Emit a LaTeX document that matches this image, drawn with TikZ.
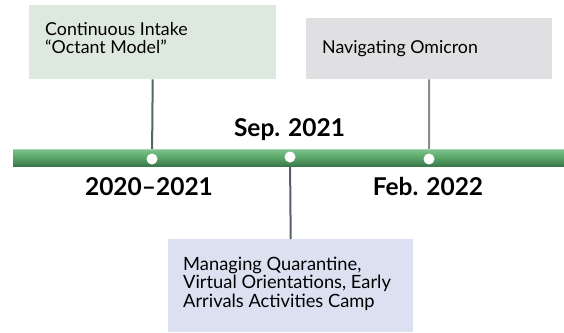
\documentclass[tikz,border=0pt]{standalone}
\usepackage{fontspec}
\setmainfont{Lato}
\definecolor{boxgreen}{RGB}{221,232,222}
\definecolor{boxgray}{RGB}{224,224,226}
\definecolor{boxblue}{RGB}{220,225,242}
\definecolor{bartop}{RGB}{128,196,140}
\definecolor{barmid}{RGB}{88,166,104}
\definecolor{barbot}{RGB}{60,120,76}
\definecolor{lineA}{RGB}{78,106,92}
\definecolor{lineB}{RGB}{140,140,140}
\definecolor{lineC}{RGB}{88,94,106}
\tikzset{
  evbox/.style={rectangle, inner sep=0pt, anchor=north west},
  evtext/.style={anchor=base west, inner sep=0pt, align=left, font=\fontsize{17.8}{18}\selectfont},
  datelbl/.style={anchor=base, inner sep=0pt, font=\fontsize{24.5}{26}\bfseries\selectfont},
  dot/.style={circle, fill=white, minimum size=11pt, inner sep=0pt},
  conn/.style={line width=2pt}
}
\begin{document}
\begin{tikzpicture}[x=1pt,y=-1pt]
\useasboundingbox (0,0) rectangle (564,332);
% boxes
\node[evbox, fill=boxgreen, minimum width=247pt, minimum height=74pt] (b1) at (29,5) {};
\node[evbox, fill=boxgray, minimum width=246pt, minimum height=61pt] (b2) at (306,18) {};
\node[evbox, fill=boxblue, minimum width=245pt, minimum height=93pt] (b3) at (168,239) {};
% circle positions
\node[dot] (c1) at (152,159) {};
\node[dot] (c2) at (290,157) {};
\node[dot] (c3) at (429,159) {};
% connectors
\draw[conn, lineA] (b1.south) -- (c1.center);
\draw[conn, lineB] (b2.south) -- (c3.center);
\draw[conn, lineC] (c2.center) -- (b3.north);
% bar
\shade[top color=bartop, bottom color=barbot, middle color=barmid] (13,149) rectangle (564,166);
\draw[bartop!70!white, line width=0.8pt] (13,149.5) -- (564,149.5);
% dots on top
\node[dot] at (c1.center) {};
\node[dot] at (c2.center) {};
\node[dot] at (c3.center) {};
% texts (base = baseline of last line)
\node[evtext] (t1) at (45,53) {Continuous Intake\\“Octant Model”};
\node[evtext] (t2) at (322,53) {Navigating Omicron};
\node[evtext, font=\fontsize{18.3}{18.5}\selectfont] (t3) at (183,307) {Managing Quarantine,\\Virtual Orientations, Early\\Arrivals Activities Camp};
% date labels
\node[datelbl] (d1) at (149,195) {2020–2021};
\node[datelbl] (d2) at (289.5,136) {Sep. 2021};
\node[datelbl] (d3) at (428,195) {Feb. 2022};
\end{tikzpicture}
\end{document}
